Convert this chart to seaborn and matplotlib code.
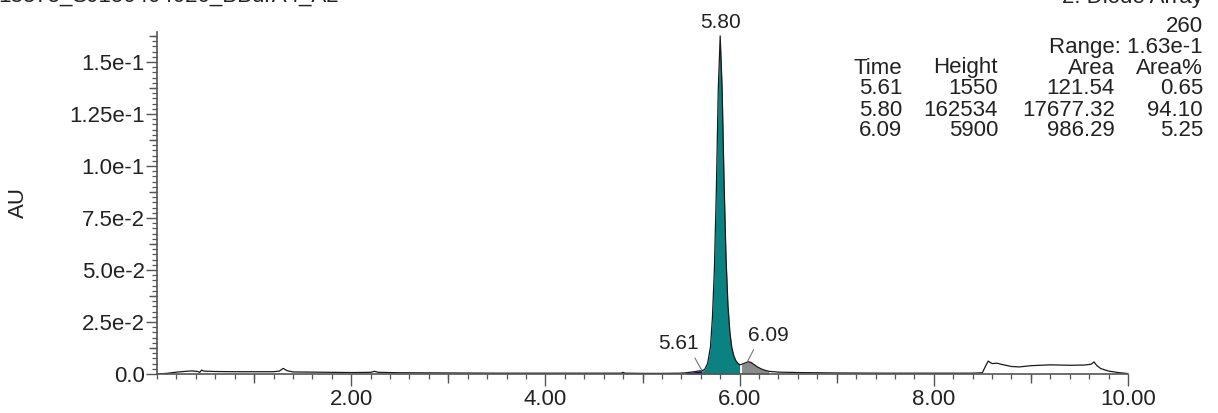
import numpy as np
import pandas as pd
import matplotlib
matplotlib.use("Agg")
import matplotlib.pyplot as plt
from matplotlib.ticker import FixedLocator, MultipleLocator, NullFormatter
import seaborn as sns

# ---- chromatogram trace (time in min, absorbance in AU) ----
time_min = [
    0.00, 0.10, 0.20, 0.30, 0.36, 0.42, 0.44, 0.46, 0.48, 0.60, 0.80, 1.00,
    1.20, 1.26, 1.30, 1.34, 1.40, 1.60, 1.80, 2.00, 2.20, 2.24, 2.28, 2.50,
    3.00, 3.50, 4.00, 4.50, 4.78, 4.80, 4.82, 5.00, 5.20, 5.40, 5.45, 5.50,
    5.55, 5.58, 5.61, 5.64, 5.67, 5.70, 5.72, 5.74, 5.76, 5.78, 5.80, 5.82,
    5.84, 5.86, 5.88, 5.90, 5.92, 5.94, 5.96, 5.98, 6.00, 6.02, 6.05, 6.09,
    6.12, 6.15, 6.18, 6.22, 6.26, 6.30, 6.40, 6.60, 7.00, 7.50, 8.00, 8.40,
    8.50, 8.53, 8.56, 8.60, 8.65, 8.70, 8.80, 8.88, 9.00, 9.20, 9.40, 9.55,
    9.62, 9.65, 9.68, 9.72, 9.80, 9.90, 10.00,
]
absorbance = [
    0.0000, 0.0003, 0.0009, 0.0013, 0.0015, 0.0012, 0.0008, 0.0019, 0.0014, 0.0012, 0.0011, 0.0011,
    0.0011, 0.0014, 0.0027, 0.0016, 0.0010, 0.0009, 0.0008, 0.0007, 0.0008, 0.0013, 0.0008, 0.0006,
    0.0005, 0.0004, 0.0004, 0.0004, 0.0004, 0.0008, 0.0004, 0.0003, 0.0003, 0.0004, 0.0006, 0.0009,
    0.0012, 0.0015, 0.00155, 0.0022, 0.0050, 0.0130, 0.0270, 0.0500, 0.0870, 0.1360, 0.16253, 0.1370,
    0.0920, 0.0560, 0.0330, 0.0200, 0.0125, 0.0088, 0.0065, 0.0052, 0.0045, 0.0046, 0.0052, 0.0059,
    0.0055, 0.0045, 0.0035, 0.0025, 0.0018, 0.0013, 0.0009, 0.0007, 0.0005, 0.0004, 0.0004, 0.0004,
    0.0006, 0.0035, 0.0062, 0.0050, 0.0052, 0.0046, 0.0036, 0.0034, 0.0040, 0.0044, 0.0042, 0.0043,
    0.0047, 0.0058, 0.0040, 0.0026, 0.0014, 0.0007, 0.0002,
]

# ---- integrated peaks ----
peak_times = ["5.61", "5.80", "6.09"]
peak_heights = [1550, 162534, 5900]
peak_areas = ["121.54", "17677.32", "986.29"]
peak_area_pct = ["0.65", "94.10", "5.25"]
peak_windows = [(5.42, 5.61), (5.61, 6.01), (6.01, 6.30)]
peak_colors = ["#0b0b6e", "#0a8282", "#8a8a8a"]

# ---- axis ticks ----
x_major = [2, 4, 6, 8, 10]
x_major_labels = ["2.00", "4.00", "6.00", "8.00", "10.00"]
x_mid = [1, 3, 5, 7, 9]
y_major = [0.0, 0.025, 0.05, 0.075, 0.10, 0.125, 0.15]
y_major_labels = ["0.0", "2.5e-2", "5.0e-2", "7.5e-2", "1.0e-1", "1.25e-1", "1.5e-1"]

title_text = "18375_SJ150404020_BBdrA4_A2"
detector_text = "2: Diode Array"
wavelength_text = "260"
range_text = "Range: 1.63e-1"

sns.set_theme(style="ticks")
plt.rcParams["font.family"] = ["Liberation Sans", "DejaVu Sans"]

W, H = 1218, 413
PT = 0.72  # points per pixel at 100 dpi
fig = plt.figure(figsize=(W / 100, H / 100), dpi=100)
ax = fig.add_axes([157 / W, 1 - 374 / H, (1128 - 157) / W, (374 - 32) / H])

df = pd.DataFrame({"t": time_min, "au": absorbance})
t = df["t"].to_numpy()
au = df["au"].to_numpy()

# shaded integrated peak areas
for (t0, t1), col in zip(peak_windows, peak_colors):
    m = (t >= t0) & (t <= t1)
    ax.fill_between(t[m], 0, au[m], color=col, lw=0, zorder=1)

sns.lineplot(data=df, x="t", y="au", ax=ax, color="#1a1a1a", lw=0.9, zorder=2)

ax.set_xlim(0, 10)
ax.set_ylim(0, 0.1644)
ax.set_xlabel("")
ax.set_ylabel("AU", fontsize=16, color="#222222")
ax.yaxis.set_label_coords((29 - 157) / (1128 - 157), 0.5)

for s in ["top", "right"]:
    ax.spines[s].set_visible(False)
for s in ["left", "bottom"]:
    ax.spines[s].set_color("#555555")
    ax.spines[s].set_linewidth(1.2)

ax.xaxis.set_major_locator(FixedLocator(x_major))
ax.set_xticklabels(x_major_labels)
ax.xaxis.set_minor_locator(MultipleLocator(0.2))
ax.yaxis.set_major_locator(FixedLocator(y_major))
ax.set_yticklabels(y_major_labels)
ax.yaxis.set_minor_locator(MultipleLocator(0.0025))
ax.tick_params(axis="both", which="major", labelsize=16, colors="#555555",
               labelcolor="#222222", width=1.0)
ax.tick_params(axis="x", which="major", length=12 * PT, pad=3 * PT)
ax.tick_params(axis="y", which="major", length=11 * PT, pad=1)
ax.tick_params(axis="both", which="minor", length=5 * PT, width=0.9, colors="#555555")

# intermediate-length ticks
secx = ax.secondary_xaxis("bottom")
secx.xaxis.set_major_locator(FixedLocator(x_mid))
secx.xaxis.set_major_formatter(NullFormatter())
secx.tick_params(length=9 * PT, width=1.0, colors="#555555")
secx.spines["bottom"].set_visible(False)
secy = ax.secondary_yaxis("left")
secy.yaxis.set_major_locator(FixedLocator([v + 0.0125 for v in y_major]))
secy.yaxis.set_major_formatter(NullFormatter())
secy.tick_params(length=8 * PT, width=1.0, colors="#555555")
secy.spines["left"].set_visible(False)

# peak labels
apex = [h / 1e6 for h in peak_heights]
ax.annotate(peak_times[1], xy=(float(peak_times[1]), apex[1]), xytext=(0, 3),
            textcoords="offset points", ha="center", va="bottom",
            fontsize=15, color="#222222", annotation_clip=False)
ax.annotate(peak_times[0], xy=(float(peak_times[0]), apex[0] + 0.0003),
            xytext=(-17, 12), textcoords="offset points", ha="center", va="bottom",
            fontsize=15, color="#222222",
            arrowprops=dict(arrowstyle="-", color="#777777", lw=0.8,
                            relpos=(0.85, 0.0), shrinkA=1, shrinkB=0))
ax.annotate(peak_times[2], xy=(float(peak_times[2]) - 0.01, apex[2]),
            xytext=(15, 12), textcoords="offset points", ha="center", va="bottom",
            fontsize=15, color="#222222",
            arrowprops=dict(arrowstyle="-", color="#777777", lw=0.8,
                            relpos=(0.2, 0.0), shrinkA=1, shrinkB=0))

# header texts
def ftext(x, y, s, ha="right", size=16):
    fig.text(x / W, 1 - y / H, s, ha=ha, va="center", fontsize=size, color="#222222")

ftext(-2, -4, title_text, ha="left")
ftext(1203, -2, detector_text)
ftext(1203, 26, wavelength_text)
ftext(1203, 47, range_text)

col_x = [902, 998, 1115, 1203]
row_y = [68, 89, 110, 131]
for x, s in zip(col_x, ["Time", "Height", "Area", "Area%"]):
    ftext(x, row_y[0], s)
for i in range(len(peak_times)):
    vals = [peak_times[i], str(peak_heights[i]), peak_areas[i], peak_area_pct[i]]
    for x, s in zip(col_x, vals):
        ftext(x, row_y[i + 1], s)

fig.savefig("out.png", dpi=100)
